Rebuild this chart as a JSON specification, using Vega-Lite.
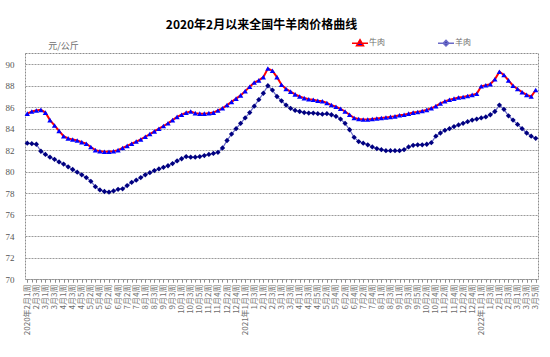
{
  "$schema": "https://vega.github.io/schema/vega-lite/v6.json",
  "width": 513,
  "height": 226,
  "autosize": "none",
  "padding": {"left": 25, "top": 53, "right": 12, "bottom": 78},
  "background": "white",
  "title": {"text": "2020年2月以来全国牛羊肉价格曲线", "font": "Noto Sans CJK SC", "fontSize": 12, "fontWeight": "bold", "color": "#000000", "anchor": "middle", "frame": "group", "dx": -20, "offset": 5},
  "config": {
    "view": {"stroke": "#8c8c8c", "strokeDash": [2, 1], "strokeWidth": 1},
    "axis": {"gridColor": "#9a9a9a", "gridDash": [2, 1], "gridWidth": 1}
  },
  "data": {"values": [
    {"wk": "2020年2月1周", "牛肉": 85.4, "羊肉": 82.65},
    {"wk": "2020年2月2周", "牛肉": 85.6, "羊肉": 82.6},
    {"wk": "2020年2月3周", "牛肉": 85.7, "羊肉": 82.55},
    {"wk": "2020年2月4周", "牛肉": 85.75, "羊肉": 81.9},
    {"wk": "2020年3月1周", "牛肉": 85.5, "羊肉": 81.6},
    {"wk": "2020年3月2周", "牛肉": 84.8, "羊肉": 81.35},
    {"wk": "2020年3月3周", "牛肉": 84.3, "羊肉": 81.15},
    {"wk": "2020年3月4周", "牛肉": 83.8, "羊肉": 80.9},
    {"wk": "2020年4月1周", "牛肉": 83.3, "羊肉": 80.7},
    {"wk": "2020年4月2周", "牛肉": 83.1, "羊肉": 80.45},
    {"wk": "2020年4月3周", "牛肉": 83.0, "羊肉": 80.2},
    {"wk": "2020年4月4周", "牛肉": 82.9, "羊肉": 79.95},
    {"wk": "2020年4月5周", "牛肉": 82.75, "羊肉": 79.7},
    {"wk": "2020年5月1周", "牛肉": 82.6, "羊肉": 79.45},
    {"wk": "2020年5月2周", "牛肉": 82.3, "羊肉": 79.1},
    {"wk": "2020年5月3周", "牛肉": 82.0, "羊肉": 78.6},
    {"wk": "2020年5月4周", "牛肉": 81.9, "羊肉": 78.3},
    {"wk": "2020年6月1周", "牛肉": 81.85, "羊肉": 78.15},
    {"wk": "2020年6月2周", "牛肉": 81.85, "羊肉": 78.1},
    {"wk": "2020年6月3周", "牛肉": 81.9, "羊肉": 78.2},
    {"wk": "2020年6月4周", "牛肉": 82.0, "羊肉": 78.35},
    {"wk": "2020年7月1周", "牛肉": 82.2, "羊肉": 78.4},
    {"wk": "2020年7月2周", "牛肉": 82.4, "羊肉": 78.7},
    {"wk": "2020年7月3周", "牛肉": 82.6, "羊肉": 79.0},
    {"wk": "2020年7月4周", "牛肉": 82.8, "羊肉": 79.2},
    {"wk": "2020年7月5周", "牛肉": 83.0, "羊肉": 79.45},
    {"wk": "2020年8月1周", "牛肉": 83.25, "羊肉": 79.7},
    {"wk": "2020年8月2周", "牛肉": 83.5, "羊肉": 79.9},
    {"wk": "2020年8月3周", "牛肉": 83.75, "羊肉": 80.1},
    {"wk": "2020年8月4周", "牛肉": 84.0, "羊肉": 80.25},
    {"wk": "2020年9月1周", "牛肉": 84.25, "羊肉": 80.4},
    {"wk": "2020年9月2周", "牛肉": 84.5, "羊肉": 80.55},
    {"wk": "2020年9月3周", "牛肉": 84.8, "羊肉": 80.75},
    {"wk": "2020年9月4周", "牛肉": 85.1, "羊肉": 81.0},
    {"wk": "2020年10月1周", "牛肉": 85.3, "羊肉": 81.2},
    {"wk": "2020年10月2周", "牛肉": 85.5, "羊肉": 81.4},
    {"wk": "2020年10月3周", "牛肉": 85.6, "羊肉": 81.35},
    {"wk": "2020年10月4周", "牛肉": 85.45, "羊肉": 81.35},
    {"wk": "2020年10月5周", "牛肉": 85.4, "羊肉": 81.4},
    {"wk": "2020年11月1周", "牛肉": 85.4, "羊肉": 81.5},
    {"wk": "2020年11月2周", "牛肉": 85.45, "羊肉": 81.6},
    {"wk": "2020年11月3周", "牛肉": 85.5, "羊肉": 81.7},
    {"wk": "2020年11月4周", "牛肉": 85.7, "羊肉": 81.8},
    {"wk": "2020年12月1周", "牛肉": 85.9, "羊肉": 82.2},
    {"wk": "2020年12月2周", "牛肉": 86.2, "羊肉": 82.9},
    {"wk": "2020年12月3周", "牛肉": 86.5, "羊肉": 83.5},
    {"wk": "2020年12月4周", "牛肉": 86.8, "羊肉": 84.0},
    {"wk": "2020年12月5周", "牛肉": 87.1, "羊肉": 84.5},
    {"wk": "2021年1月1周", "牛肉": 87.5, "羊肉": 85.0},
    {"wk": "2021年1月2周", "牛肉": 87.9, "羊肉": 85.5},
    {"wk": "2021年1月3周", "牛肉": 88.3, "羊肉": 86.1},
    {"wk": "2021年1月4周", "牛肉": 88.5, "羊肉": 86.7},
    {"wk": "2021年2月1周", "牛肉": 88.8, "羊肉": 87.3},
    {"wk": "2021年2月2周", "牛肉": 89.6, "羊肉": 88.0},
    {"wk": "2021年2月3周", "牛肉": 89.4, "羊肉": 87.6},
    {"wk": "2021年2月4周", "牛肉": 88.8, "羊肉": 87.0},
    {"wk": "2021年3月1周", "牛肉": 88.1, "羊肉": 86.6},
    {"wk": "2021年3月2周", "牛肉": 87.7, "羊肉": 86.2},
    {"wk": "2021年3月3周", "牛肉": 87.45, "羊肉": 85.9},
    {"wk": "2021年3月4周", "牛肉": 87.2, "羊肉": 85.7},
    {"wk": "2021年4月1周", "牛肉": 87.0, "羊肉": 85.6},
    {"wk": "2021年4月2周", "牛肉": 86.85, "羊肉": 85.5},
    {"wk": "2021年4月3周", "牛肉": 86.75, "羊肉": 85.45},
    {"wk": "2021年4月4周", "牛肉": 86.7, "羊肉": 85.45},
    {"wk": "2021年4月5周", "牛肉": 86.6, "羊肉": 85.4},
    {"wk": "2021年5月1周", "牛肉": 86.55, "羊肉": 85.35},
    {"wk": "2021年5月2周", "牛肉": 86.4, "羊肉": 85.4},
    {"wk": "2021年5月3周", "牛肉": 86.2, "羊肉": 85.3},
    {"wk": "2021年5月4周", "牛肉": 86.05, "羊肉": 85.15},
    {"wk": "2021年6月1周", "牛肉": 85.85, "羊肉": 84.9},
    {"wk": "2021年6月2周", "牛肉": 85.6, "羊肉": 84.5},
    {"wk": "2021年6月3周", "牛肉": 85.3, "羊肉": 83.9},
    {"wk": "2021年6月4周", "牛肉": 85.0, "羊肉": 83.2},
    {"wk": "2021年7月1周", "牛肉": 84.9, "羊肉": 82.8},
    {"wk": "2021年7月2周", "牛肉": 84.85, "羊肉": 82.65},
    {"wk": "2021年7月3周", "牛肉": 84.85, "羊肉": 82.5},
    {"wk": "2021年7月4周", "牛肉": 84.9, "羊肉": 82.3},
    {"wk": "2021年7月5周", "牛肉": 84.95, "羊肉": 82.15},
    {"wk": "2021年8月1周", "牛肉": 85.0, "羊肉": 82.05},
    {"wk": "2021年8月2周", "牛肉": 85.05, "羊肉": 81.95},
    {"wk": "2021年8月3周", "牛肉": 85.1, "羊肉": 81.95},
    {"wk": "2021年8月4周", "牛肉": 85.15, "羊肉": 81.95},
    {"wk": "2021年9月1周", "牛肉": 85.25, "羊肉": 81.95},
    {"wk": "2021年9月2周", "牛肉": 85.3, "羊肉": 82.05},
    {"wk": "2021年9月3周", "牛肉": 85.4, "羊肉": 82.3},
    {"wk": "2021年9月4周", "牛肉": 85.5, "羊肉": 82.45},
    {"wk": "2021年9月5周", "牛肉": 85.55, "羊肉": 82.5},
    {"wk": "2021年10月1周", "牛肉": 85.65, "羊肉": 82.5},
    {"wk": "2021年10月2周", "牛肉": 85.75, "羊肉": 82.55},
    {"wk": "2021年10月3周", "牛肉": 85.9, "羊肉": 82.7},
    {"wk": "2021年10月4周", "牛肉": 86.1, "羊肉": 83.3},
    {"wk": "2021年11月1周", "牛肉": 86.35, "羊肉": 83.6},
    {"wk": "2021年11月2周", "牛肉": 86.55, "羊肉": 83.85},
    {"wk": "2021年11月3周", "牛肉": 86.7, "羊肉": 84.0},
    {"wk": "2021年11月4周", "牛肉": 86.8, "羊肉": 84.2},
    {"wk": "2021年12月1周", "牛肉": 86.9, "羊肉": 84.35},
    {"wk": "2021年12月2周", "牛肉": 86.95, "羊肉": 84.5},
    {"wk": "2021年12月3周", "牛肉": 87.05, "羊肉": 84.65},
    {"wk": "2021年12月4周", "牛肉": 87.15, "羊肉": 84.8},
    {"wk": "2021年12月5周", "牛肉": 87.25, "羊肉": 84.9},
    {"wk": "2022年1月1周", "牛肉": 87.95, "羊肉": 85.0},
    {"wk": "2022年1月2周", "牛肉": 88.05, "羊肉": 85.1},
    {"wk": "2022年1月3周", "牛肉": 88.15, "羊肉": 85.3},
    {"wk": "2022年1月4周", "牛肉": 88.6, "羊肉": 85.6},
    {"wk": "2022年2月1周", "牛肉": 89.3, "羊肉": 86.2},
    {"wk": "2022年2月2周", "牛肉": 89.0, "羊肉": 85.8},
    {"wk": "2022年2月3周", "牛肉": 88.5, "羊肉": 85.2},
    {"wk": "2022年2月4周", "牛肉": 88.0, "羊肉": 84.8},
    {"wk": "2022年3月1周", "牛肉": 87.7, "羊肉": 84.4},
    {"wk": "2022年3月2周", "牛肉": 87.4, "羊肉": 84.0},
    {"wk": "2022年3月3周", "牛肉": 87.15, "羊肉": 83.6},
    {"wk": "2022年3月4周", "牛肉": 87.0, "羊肉": 83.3},
    {"wk": "2022年3月5周", "牛肉": 87.6, "羊肉": 83.1}
  ]},
  "transform": [{"fold": ["牛肉", "羊肉"], "as": ["series", "price"]}],
  "encoding": {
    "x": {
      "field": "wk", "type": "ordinal", "sort": null,
      "scale": {"type": "point", "padding": 0.5},
      "axis": {
        "title": null,
        "orient": "bottom",
        "values": ["2020年2月1周","2020年2月3周","2020年3月1周","2020年3月3周","2020年4月1周","2020年4月3周","2020年4月5周","2020年5月2周","2020年5月4周","2020年6月2周","2020年6月4周","2020年7月2周","2020年7月4周","2020年8月1周","2020年8月3周","2020年9月1周","2020年9月3周","2020年10月1周","2020年10月3周","2020年10月5周","2020年11月2周","2020年11月4周","2020年12月2周","2020年12月4周","2021年1月1周","2021年1月3周","2021年2月1周","2021年2月3周","2021年3月1周","2021年3月3周","2021年4月1周","2021年4月3周","2021年4月5周","2021年5月2周","2021年5月4周","2021年6月2周","2021年6月4周","2021年7月2周","2021年7月4周","2021年8月1周","2021年8月3周","2021年9月1周","2021年9月3周","2021年9月5周","2021年10月2周","2021年10月4周","2021年11月2周","2021年11月4周","2021年12月2周","2021年12月4周","2022年1月1周","2022年1月3周","2022年2月1周","2022年2月3周","2022年3月1周","2022年3月3周","2022年3月5周"],
        "labelExpr": "indexof(datum.value,'年1月1周')>=0 || datum.value=='2020年2月1周' ? datum.value : substring(datum.value,5)",
        "labelAngle": 270,
        "labelFont": "Noto Sans CJK SC",
        "labelFontSize": 8,
        "labelColor": "#6e6e6e",
        "labelOverlap": false,
        "labelPadding": 2,
        "ticks": true,
        "tickSize": 3,
        "tickColor": "#8c8c8c",
        "domain": false,
        "grid": false
      }
    },
    "y": {
      "field": "price", "type": "quantitative",
      "scale": {"domain": [70, 91.05], "nice": false, "zero": false},
      "axis": {
        "values": [70, 72, 74, 76, 78, 80, 82, 84, 86, 88, 90],
        "title": "元/公斤",
        "titleAngle": 0,
        "titleX": 38,
        "titleY": -8,
        "titleAlign": "center",
        "titleBaseline": "middle",
        "titleFont": "Noto Sans CJK SC",
        "titleFontSize": 9,
        "titleFontWeight": "normal",
        "titleColor": "#6e6e6e",
        "labelFont": "Liberation Serif",
        "labelFontSize": 9,
        "labelColor": "#555555",
        "labelPadding": 11,
        "ticks": false,
        "domain": false,
        "grid": true
      }
    }
  },
  "layer": [
    {
      "transform": [{"filter": "datum.series == '羊肉'"}],
      "mark": {"type": "line", "color": "#6a6ac8", "strokeWidth": 1.2},
      "encoding": {
        "x": {
          "field": "wk", "type": "ordinal", "sort": null,
          "scale": {"type": "point", "padding": 0.5},
          "axis": {"title": null, "orient": "bottom", "labels": false, "ticks": true, "tickSize": 3, "tickColor": "#8c8c8c", "domain": false, "grid": false}
        }
      }
    },
    {
      "transform": [{"filter": "datum.series == '牛肉'"}],
      "mark": {"type": "line", "color": "#ff0000", "strokeWidth": 2},
      "encoding": {}
    },
    {
      "mark": {"type": "point", "filled": true, "opacity": 1, "size": 28},
      "encoding": {
        "x": {"field": "wk", "type": "ordinal", "sort": null, "scale": {"type": "point", "padding": 0.5}, "axis": null},
        "shape": {"field": "series", "type": "nominal", "scale": {"domain": ["牛肉", "羊肉"], "range": ["triangle-up", "diamond"]}, "legend": null},
        "fill": {"field": "series", "type": "nominal", "scale": {"domain": ["牛肉", "羊肉"], "range": ["#0000ff", "#000080"]}, "legend": null}
      }
    },
    {
      "mark": {"type": "point", "filled": true, "opacity": 0, "size": 0},
      "encoding": {
        "x": {"field": "wk", "type": "ordinal", "sort": null, "scale": {"type": "point", "padding": 0.5}, "axis": null},
        "shape": {
          "field": "series", "type": "nominal",
          "scale": {"domain": ["牛肉", "羊肉"], "range": ["M-1.6,0H1.6M0,-0.7L0.7,0.5L-0.7,0.5Z", "M-1.6,0H1.6M0,-0.55L0.55,0L0,0.55L-0.55,0Z"]},
          "legend": {
            "title": null, "orient": "none", "direction": "horizontal",
            "legendX": 329, "legendY": -16,
            "labelFont": "Noto Sans CJK SC", "labelFontSize": 8, "labelColor": "#6e6e6e",
            "labelOffset": 3, "columnPadding": 50,
            "symbolSize": 100, "symbolStrokeWidth": 1.5, "symbolOpacity": 1
          }
        },
        "stroke": {
          "field": "series", "type": "nominal",
          "scale": {"domain": ["牛肉", "羊肉"], "range": ["#ff0000", "#6a6ac8"]},
          "legend": {
            "title": null, "orient": "none", "direction": "horizontal",
            "legendX": 329, "legendY": -16,
            "labelFont": "Noto Sans CJK SC", "labelFontSize": 8, "labelColor": "#6e6e6e",
            "labelOffset": 3, "columnPadding": 50,
            "symbolSize": 100, "symbolStrokeWidth": 1.5, "symbolOpacity": 1
          }
        },
        "fill": {
          "field": "series", "type": "nominal",
          "scale": {"domain": ["牛肉", "羊肉"], "range": ["#0000ff", "#000080"]},
          "legend": {
            "title": null, "orient": "none", "direction": "horizontal",
            "legendX": 329, "legendY": -16,
            "labelFont": "Noto Sans CJK SC", "labelFontSize": 8, "labelColor": "#6e6e6e",
            "labelOffset": 3, "columnPadding": 50,
            "symbolSize": 100, "symbolStrokeWidth": 1.5, "symbolOpacity": 1
          }
        }
      }
    }
  ],
  "resolve": {"scale": {"shape": "independent", "fill": "independent", "stroke": "independent"}, "axis": {"x": "independent"}}
}
